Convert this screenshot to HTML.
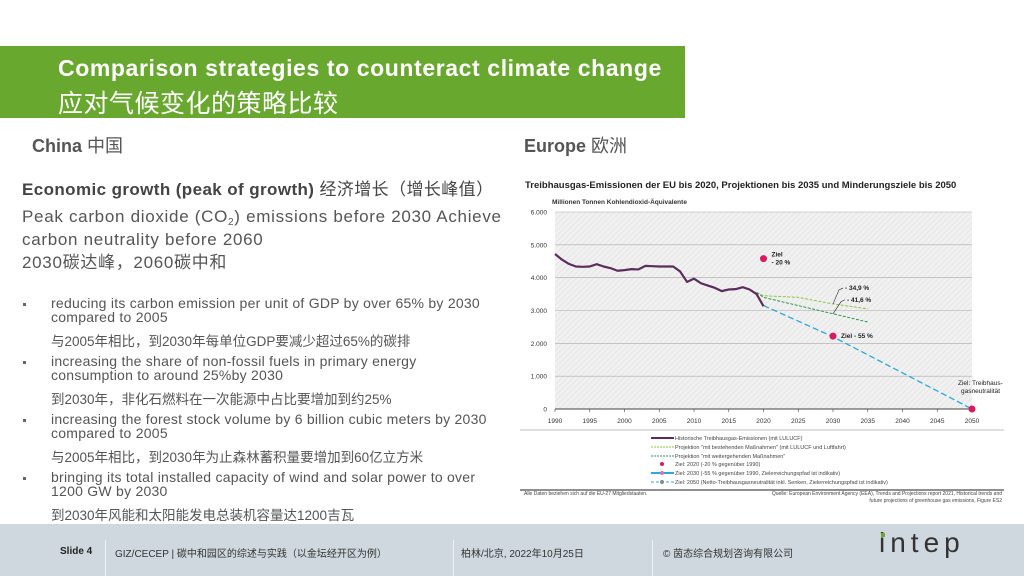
<!DOCTYPE html>
<html><head><meta charset="utf-8">
<style>
*{margin:0;padding:0;box-sizing:border-box}
body{width:1024px;height:576px;position:relative;background:#fff;overflow:hidden;font-family:"Liberation Sans","Noto Sans CJK SC",sans-serif;color:#555}
.a{position:absolute;white-space:nowrap}
</style></head><body>
<div class="a" style="left:0;top:46px;width:685px;height:72px;background:#69a82f"></div>
<div class="a" style="left:58px;top:55px;color:#fff;font-weight:bold;font-size:23px;letter-spacing:0.6px">Comparison strategies to counteract climate change</div>
<div class="a" style="left:58px;top:84px;color:#fff;font-size:25px;letter-spacing:0.5px">应对气候变化的策略比较</div>
<div class="a" style="left:32px;top:132px;font-weight:bold;font-size:18px;color:#555">China <span style="font-weight:normal">中国</span></div>
<div class="a" style="left:524px;top:132px;font-weight:bold;font-size:18px;color:#555">Europe <span style="font-weight:normal">欧洲</span></div>
<div class="a" style="left:22px;top:175px;font-weight:bold;font-size:17px;letter-spacing:0.4px;color:#444">Economic growth (peak of growth) <span style="font-weight:normal">经济增长（增长峰值）</span></div>
<div class="a" style="left:22px;top:205px;font-size:17px;line-height:23px;letter-spacing:0.7px;color:#555">Peak carbon dioxide (CO<span style="font-size:10px;vertical-align:-3px;line-height:0">2</span>) emissions before 2030 Achieve<br>carbon neutrality before 2060<br>2030碳达峰，2060碳中和</div>
<div class="a" style="left:22px;top:296px;font-size:14px;color:#555;line-height:14px;letter-spacing:0.25px">
<div style="position:absolute;top:0;left:0;width:500px">
<span style="position:absolute;left:1px;top:7px;width:3px;height:3px;background:#666"></span>
<div style="position:absolute;left:29px;top:0">reducing its carbon emission per unit of GDP by over 65% by 2030<br>compared to 2005</div>
<div style="position:absolute;left:29px;top:39px;font-size:13.5px;letter-spacing:0">与2005年相比，到2030年每单位GDP要减少超过65%的碳排</div>
<span style="position:absolute;left:1px;top:65px;width:3px;height:3px;background:#666"></span>
<div style="position:absolute;left:29px;top:58px">increasing the share of non-fossil fuels in primary energy<br>consumption to around 25%by 2030</div>
<div style="position:absolute;left:29px;top:97px;font-size:13.5px;letter-spacing:0">到2030年，非化石燃料在一次能源中占比要增加到约25%</div>
<span style="position:absolute;left:1px;top:123px;width:3px;height:3px;background:#666"></span>
<div style="position:absolute;left:29px;top:116px">increasing the forest stock volume by 6 billion cubic meters by 2030<br>compared to 2005</div>
<div style="position:absolute;left:29px;top:155px;font-size:13.5px;letter-spacing:0">与2005年相比，到2030年为止森林蓄积量要增加到60亿立方米</div>
<span style="position:absolute;left:1px;top:181px;width:3px;height:3px;background:#666"></span>
<div style="position:absolute;left:29px;top:174px">bringing its total installed capacity of wind and solar power to over<br>1200 GW by 2030</div>
<div style="position:absolute;left:29px;top:213px;font-size:13.5px;letter-spacing:0">到2030年风能和太阳能发电总装机容量达1200吉瓦</div>
</div></div>

<svg class="a" style="left:0;top:0" width="1024" height="524" id="chart">
<defs><pattern id="hatch" width="4" height="4" patternUnits="userSpaceOnUse" patternTransform="rotate(45)"><rect width="4" height="4" fill="#f1f1f1"/><line x1="0" y1="0" x2="0" y2="4" stroke="#e2e2e2" stroke-width="1.5"/></pattern></defs>
<text x="525" y="188" font-size="9.5" font-weight="bold" fill="#222" font-family="Liberation Sans">Treibhausgas-Emissionen der EU bis 2020, Projektionen bis 2035 und Minderungsziele bis 2050</text>
<text x="552" y="204" font-size="6.5" font-weight="bold" fill="#333" font-family="Liberation Sans">Millionen Tonnen Kohlendioxid-Äquivalente</text>
<rect x="555" y="212" width="417" height="197" fill="url(#hatch)"/>
<g id="grid"></g><g id="marks"></g>
<line x1="520" y1="430" x2="1004" y2="430" stroke="#aaa" stroke-width="0.8"/>
<line x1="520" y1="490" x2="1004" y2="490" stroke="#222" stroke-width="1"/>
<g font-size="5.5" fill="#444" font-family="Liberation Sans">
<line x1="651" y1="438" x2="674" y2="438" stroke="#5a2d5e" stroke-width="2"/><text x="675" y="440">Historische Treibhausgas-Emissionen (mit LULUCF)</text>
<line x1="651" y1="447" x2="674" y2="447" stroke="#8cc63f" stroke-width="1" stroke-dasharray="2,1"/><text x="675" y="449">Projektion "mit bestehenden Maßnahmen" (mit LULUCF und Luftfahrt)</text>
<line x1="651" y1="456" x2="674" y2="456" stroke="#2e9a48" stroke-width="1" stroke-dasharray="2,1"/><text x="675" y="458">Projektion "mit weitergehenden Maßnahmen"</text>
<circle cx="662" cy="464" r="2" fill="#d81b60"/><text x="675" y="466">Ziel: 2020 (-20 % gegenüber 1990)</text>
<line x1="651" y1="473" x2="674" y2="473" stroke="#29a9e0" stroke-width="2"/><circle cx="662" cy="473" r="2" fill="#e070a0"/><text x="675" y="475">Ziel: 2030 (-55 % gegenüber 1990, Zielerreichungspfad ist indikativ)</text>
<line x1="651" y1="482" x2="674" y2="482" stroke="#29a9e0" stroke-width="1" stroke-dasharray="3,2"/><circle cx="662" cy="482" r="2" fill="#888"/><text x="675" y="484">Ziel: 2050 (Netto-Treibhausgasneutralität inkl. Senken, Zielerreichungspfad ist indikativ)</text>
</g>
<text x="524" y="495" font-size="5" fill="#444" font-family="Liberation Sans">Alle Daten beziehen sich auf die EU-27 Mitgliedstaaten.</text>
<text x="1002" y="495" font-size="5" fill="#444" text-anchor="end" font-family="Liberation Sans">Quelle: European Environment Agency (EEA), Trends and Projections report 2021, Historical trends and</text>
<text x="1002" y="502" font-size="5" fill="#444" text-anchor="end" font-family="Liberation Sans">future projections of greenhouse gas emissions, Figure ES2</text>
</svg>

<div class="a" style="left:0;top:524px;width:1024px;height:52px;background:#cfd8de"></div>
<div class="a" style="left:105px;top:540px;width:1px;height:36px;background:#eef2f4"></div>
<div class="a" style="left:453px;top:540px;width:1px;height:36px;background:#eef2f4"></div>
<div class="a" style="left:652px;top:540px;width:1px;height:36px;background:#eef2f4"></div>
<div class="a" style="left:60px;top:546px;font-size:10px;font-weight:bold;color:#222">Slide 4</div>
<div class="a" style="left:115px;top:545px;font-size:10px;color:#333">GIZ/CECEP | 碳中和园区的综述与实践（以金坛经开区为例）</div>
<div class="a" style="left:461px;top:545px;font-size:10px;color:#333">柏林/北京, 2022年10月25日</div>
<div class="a" style="left:663px;top:545px;font-size:10px;color:#333">© 茵态综合规划咨询有限公司</div>
<div class="a" style="left:879px;top:527px;font-size:28px;color:#333;letter-spacing:5px;font-family:'Liberation Sans',sans-serif">intep</div>
<div class="a" style="left:881px;top:533px;width:4px;height:4px;background:#6aaa2f"></div>

<script>
const yTicks=[0,1000,2000,3000,4000,5000,6000];
const yTickLabels=["0","1.000","2.000","3.000","4.000","5.000","6.000"];
const xTicks=[1990,1995,2000,2005,2010,2015,2020,2025,2030,2035,2040,2045,2050];
const histYears=[1990,1991,1992,1993,1994,1995,1996,1997,1998,1999,2000,2001,2002,2003,2004,2005,2006,2007,2008,2009,2010,2011,2012,2013,2014,2015,2016,2017,2018,2019,2020];
const histValues=[4720,4550,4420,4340,4330,4340,4410,4340,4290,4210,4230,4260,4250,4360,4350,4340,4340,4340,4190,3870,3970,3830,3760,3690,3590,3640,3650,3710,3640,3500,3130];
const projYears=[2019,2020,2025,2030,2035];
const projExisting=[3550,3450,3400,3200,3050];
const projAdditional=[3550,3400,3150,2900,2650];
const pathYears=[2020,2030,2050];
const pathValues=[3150,2200,0];
const targetYears=[2020,2030,2050];
const targetValues=[4580,2220,0];
const X=y=>555+(y-1990)*(417/60);
const Y=v=>409-v*(197/6000);
const NS="http://www.w3.org/2000/svg";
const grid=document.getElementById('grid'),marks=document.getElementById('marks');
function mk(p,tag,at){const e=document.createElementNS(NS,tag);for(const k in at)e.setAttribute(k,at[k]);p.appendChild(e);return e;}
yTicks.forEach((t,i)=>{
 const l=mk(grid,'line',{x1:555,x2:972,y1:Y(t),y2:Y(t),stroke:t===0?'#444':'#aaa','stroke-width':t===0?1:0.6});
 
 
 const tx=mk(grid,'text',{x:547,y:Y(t)+2.5,'font-size':6.5,'text-anchor':'end',fill:'#333','font-family':'Liberation Sans'});
 tx.textContent=yTickLabels[i];
 
 
});
xTicks.forEach(t=>{
 const tx=mk(grid,'text',{x:X(t),y:423,'font-size':6.5,'text-anchor':'middle',fill:'#333','font-family':'Liberation Sans'});
 tx.textContent=t;
 
 
 const l=mk(grid,'line',{x1:X(t),x2:X(t),y1:409,y2:412,stroke:'#444','stroke-width':0.6});
 
 
});
const pts=(xs,vs)=>xs.map((x,i)=>X(x)+','+Y(vs[i])).join(' ');
let e;
e=mk(marks,'polyline',{points:pts(pathYears,pathValues),fill:'none',stroke:'#29a9e0','stroke-width':1.3,'stroke-dasharray':'6,3'});


e=mk(marks,'polyline',{points:pts(projYears,projExisting),fill:'none',stroke:'#8cc63f','stroke-width':1,'stroke-dasharray':'3,1.5'});


e=mk(marks,'polyline',{points:pts(projYears,projAdditional),fill:'none',stroke:'#2e9a48','stroke-width':1,'stroke-dasharray':'3,1.5'});


e=mk(marks,'polyline',{points:pts(histYears,histValues),fill:'none',stroke:'#5a2d5e','stroke-width':2.2,'stroke-linejoin':'round'});


targetYears.forEach((y,i)=>{
 const c=mk(marks,'circle',{cx:X(y),cy:Y(targetValues[i]),r:3.5,fill:'#d81b60'});
 
 
});
const lab=(x,y,s,b)=>{const t=mk(marks,'text',{x:x,y:y,'font-size':6.5,'font-weight':b?'bold':'normal',fill:'#222','font-family':'Liberation Sans'});t.textContent=s;
 
 };
lab(X(2020)+8,Y(targetValues[0])-2,"Ziel",1);lab(X(2020)+8,Y(targetValues[0])+6,"- 20 %",1);
lab(X(2030)+8,Y(targetValues[1])+2,"Ziel - 55 %",1);
lab(X(2050)-14,Y(0)-24,"Ziel: Treibhaus-",0);lab(X(2050)-11,Y(0)-16,"gasneutralität",0);
lab(X(2030)+12,Y(3200)-14,"- 34,9 %",1);lab(X(2030)+14,Y(2900)-12,"- 41,6 %",1);
mk(marks,'polyline',{points:`${X(2030)},${Y(3200)} ${X(2030)+6},${Y(3200)-14} ${X(2030)+10},${Y(3200)-16}`,fill:'none',stroke:'#222','stroke-width':0.6});
mk(marks,'polyline',{points:`${X(2030)},${Y(2900)} ${X(2030)+8},${Y(2900)-12} ${X(2030)+12},${Y(2900)-14}`,fill:'none',stroke:'#222','stroke-width':0.6});
</script>
</body></html>
